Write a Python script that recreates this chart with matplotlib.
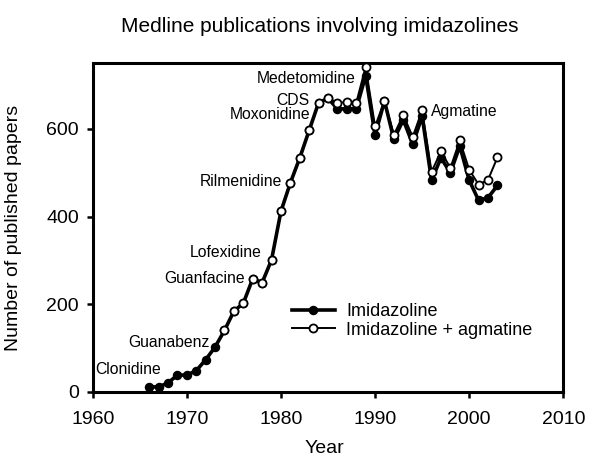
import numpy as np
import matplotlib
matplotlib.use("Agg")
import matplotlib.pyplot as plt

plt.rcParams['font.family'] = ['Liberation Sans', 'DejaVu Sans']

# publications per year
years = np.arange(1966, 2004)
imidazoline = [11, 11, 20, 38, 38, 48, 73, 102,
               140, 184, 202, 258, 249, 301, 412, 477, 534, 597, 660, 670,
               646, 646, 646, 722, 586, 664, 576, 621, 565, 629,
               483, 534, 500, 561, 483, 437, 443, 471]
agm_years = np.arange(1974, 2004)
imid_agmatine = [140, 184, 202, 258, 249, 301, 412, 477, 534, 597, 660, 670,
                 660, 661, 660, 742, 606, 664, 587, 632, 582, 643,
                 502, 549, 511, 574, 507, 473, 484, 535]

drugs = ['Clonidine', 'Guanabenz', 'Guanfacine', 'Lofexidine', 'Rilmenidine',
         'Moxonidine', 'CDS', 'Medetomidine', 'Agmatine']
# where each drug name sits (data coords) and how it is aligned
drug_pos = [(1967.3, 50), (1972.4, 112), (1976.2, 258), (1977.9, 318),
            (1980.1, 481), (1983.1, 633), (1983.0, 664), (1987.9, 715),
            (1995.9, 639)]
drug_ha = ['right'] * 8 + ['left']

fig = plt.figure(figsize=(5.89, 4.61), dpi=100)
ax = fig.add_axes([0.1574, 0.1503, 0.7990, 0.7124])

ax.plot(years, imidazoline, '-o', color='black', lw=2.6, ms=5.8,
        mfc='black', mec='black', label='Imidazoline', zorder=3, clip_on=False)
ax.plot(agm_years, imid_agmatine, '-o', color='black', lw=1.4, ms=5.8,
        mfc='white', mec='black', mew=1.3, label='Imidazoline + agmatine',
        zorder=4, clip_on=False)

for name, (tx, ty), ha in zip(drugs, drug_pos, drug_ha):
    ax.text(tx, ty, name, ha=ha, va='center', fontsize=11.3)

ax.set_xlim(1960, 2010)
ax.set_ylim(0, 750)
ax.set_xticks(np.arange(1960, 2011, 10))
ax.set_yticks([0, 200, 400, 600])
ax.tick_params(labelsize=14, length=4, width=1.8, direction='out')
ax.tick_params(axis='x', pad=10)
ax.tick_params(axis='y', pad=6)
for s in ax.spines.values():
    s.set_linewidth(2.2)

ax.set_ylabel('Number of published papers', fontsize=14)
ax.yaxis.set_label_coords(-0.151, 0.5)
ax.set_xlabel('Year', fontsize=14)
ax.xaxis.label.set_va('center')
ax.xaxis.set_label_coords(0.493, -0.172)
ax.set_title('Medline publications involving imidazolines', fontsize=15,
             x=0.483, y=1.094, pad=0)

ax.legend(loc='center left', bbox_to_anchor=(0.4229, 0.2157), frameon=False,
          fontsize=13, handlelength=2.4, handletextpad=0.6, labelspacing=0.1,
          borderpad=0, borderaxespad=0)

fig.savefig('out.png', dpi=100)
